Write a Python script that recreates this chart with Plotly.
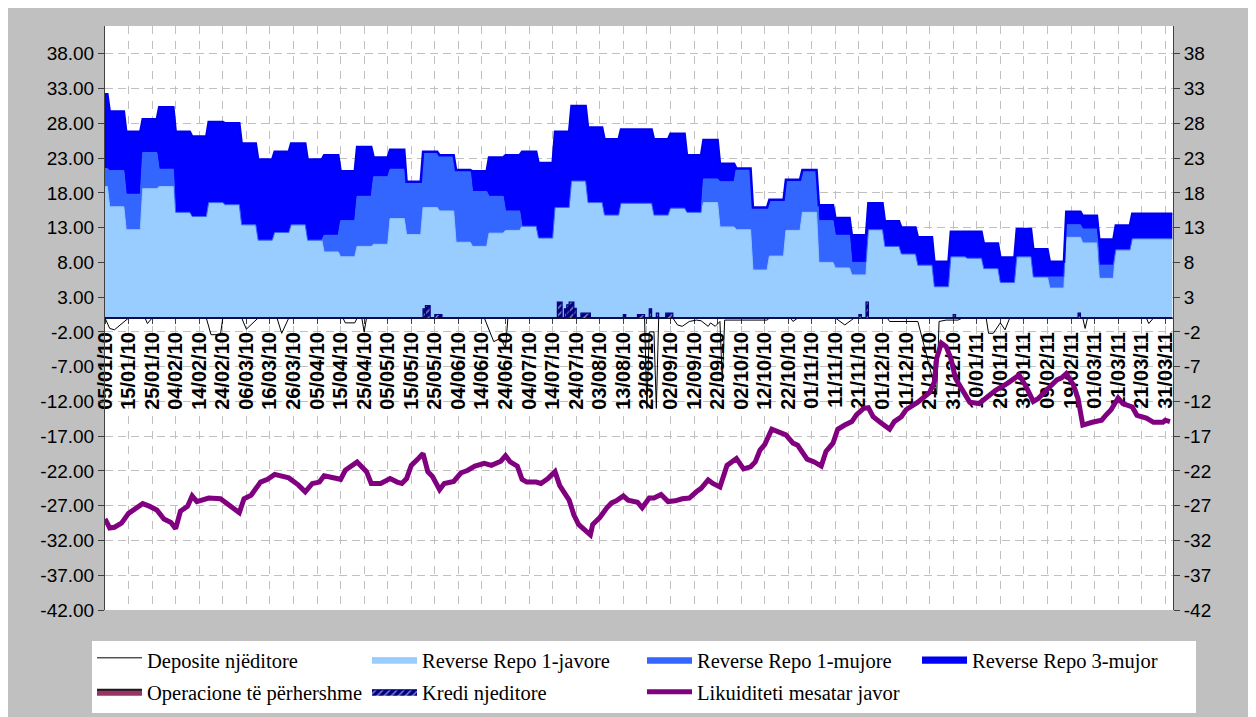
import datetime as dt
import plotly.graph_objects as go

# ---------------- data ----------------
chart_start = "2010-01-05"
first_auction = "2010-01-07"   # weekly auctions (Thursdays) from this date
n_weeks = 65
chart_end = "2011-04-03"

# weekly volumes (billion), first value covers 05-06/01/10
repo_1w = [18.9, 16.0, 12.7, 18.6, 18.9, 15.2, 14.6, 16.6, 16.3, 13.4,
           11.2, 12.3, 13.4, 11.2, 9.5, 8.8, 10.3, 10.6, 14.3, 12.0,
           15.9, 15.4, 10.9, 10.3, 12.2, 12.6, 13.2, 11.5, 15.9, 19.7,
           16.6, 14.8, 16.5, 16.5, 14.8, 15.8, 15.2, 16.6, 13.1, 12.7,
           6.9, 8.9, 12.6, 15.2, 8.0, 7.2, 6.2, 12.7, 10.3, 9.2,
           7.6, 4.5, 8.8, 8.6, 7.1, 5.1, 8.8, 5.9, 4.3, 11.6,
           10.8, 5.7, 9.8, 11.4, 11.4, 11.4]
repo_1m = [2.6, 5.2, 5.1, 5.2, 2.5, 0, 0, 0, 0, 0,
           0, 0, 0, 0, 2.4, 5.2, 7.2, 9.7, 7.1, 7.6,
           8.0, 8.0, 10.4, 7.9, 5.3, 2.8, 0, 0, 0, 0,
           0, 0, 0, 0, 0, 0, 0, 3.4, 6.5, 8.8,
           9.0, 8.1, 7.3, 6.1, 6.0, 4.7, 1.8, 0, 0, 0,
           0, 0, 0, 0, 0, 0, 0, 0, 1.6, 1.8,
           2.0, 1.9, 0, 0, 0, 0]
repo_3m = [10.7, 8.5, 9.0, 4.8, 8.9, 11.6, 11.5, 11.6, 11.7, 11.7,
           11.6, 11.6, 11.7, 11.6, 11.5, 7.1, 7.1, 2.8, 2.8, 0,
           0, 0, 0, 2.9, 5.6, 8.0, 10.7, 10.8, 10.9, 10.8,
           10.8, 10.9, 10.6, 10.6, 10.9, 10.7, 8.2, 5.6, 2.6, 0,
           0, 0, 0, 0, 2.2, 2.5, 3.9, 3.8, 3.6, 3.8,
           4.0, 3.6, 3.6, 3.8, 3.6, 3.6, 4.0, 4.0, 2.2, 1.9,
           1.9, 3.7, 3.5, 3.6, 3.6, 3.6]

# overnight deposits (negative = absorption)
dep_dates = ["2010-01-05", "2010-01-07", "2010-01-09", "2010-01-14", "2010-01-15",
             "2010-01-22", "2010-01-23", "2010-01-25", "2010-02-17", "2010-02-19",
             "2010-02-23", "2010-02-24", "2010-03-04", "2010-03-06", "2010-03-11",
             "2010-03-19", "2010-03-21", "2010-03-24", "2010-04-16", "2010-04-17",
             "2010-04-21", "2010-04-22", "2010-04-24", "2010-04-25", "2010-04-26",
             "2010-06-15", "2010-06-19", "2010-06-22", "2010-06-24", "2010-06-25",
             "2010-08-22", "2010-08-23", "2010-08-24", "2010-08-26", "2010-08-27",
             "2010-08-28", "2010-09-03", "2010-09-05", "2010-09-07", "2010-09-10",
             "2010-09-13", "2010-09-15", "2010-09-18", "2010-09-19", "2010-09-21",
             "2010-09-23", "2010-09-24", "2010-09-25", "2010-10-13", "2010-10-14",
             "2010-10-23", "2010-10-24", "2010-10-26", "2010-11-11", "2010-11-15",
             "2010-11-19", "2010-12-03", "2010-12-04", "2010-12-16", "2010-12-24",
             "2010-12-25", "2010-12-28", "2011-01-02", "2011-01-04", "2011-01-14",
             "2011-01-15", "2011-01-17", "2011-01-20", "2011-01-22", "2011-01-24",
             "2011-02-24", "2011-02-25", "2011-02-26", "2011-03-23", "2011-03-24",
             "2011-03-26", "2011-04-02"]
dep_vals = [0, -1.5, -1.7, -0.2, 0,
            0, -0.8, 0, 0, -2.4,
            -2.4, 0, 0, -1.6, 0,
            0, -2.2, 0, 0, -0.7,
            -0.7, 0, 0, -2.0, 0,
            0, -3.4, -2.9, -4.4, 0,
            0, -13.0, -2.0, -2.0, -13.0,
            0, 0, -1.0, -1.2, -0.5,
            -0.3, -0.4, -1.2, -0.7, -1.2,
            -0.5, -9.2, -0.3, -0.3, 0,
            0, -0.5, 0, 0, -1.0,
            0, 0, -0.5, -0.5, -11.0,
            -0.5, -0.3, -0.3, 0, 0,
            -2.2, -2.2, -0.7, -1.7, 0,
            0, -1.5, 0, 0, -0.8,
            0, 0]

# standing operations (none used)
perm_dates = ["2010-01-05", "2011-04-03"]
perm_vals = [0.0, 0.0]

# overnight credit
kredi_start = ["2010-05-20", "2010-05-21", "2010-05-25", "2010-07-16", "2010-07-19",
               "2010-07-20", "2010-07-21", "2010-07-23", "2010-07-26", "2010-08-13",
               "2010-08-19", "2010-08-24", "2010-08-27", "2010-08-31", "2010-11-21",
               "2010-11-24", "2010-12-31", "2011-02-22"]
kredi_end = ["2010-05-21", "2010-05-23", "2010-05-28", "2010-07-18", "2010-07-20",
             "2010-07-21", "2010-07-23", "2010-07-24", "2010-07-30", "2010-08-14",
             "2010-08-22", "2010-08-25", "2010-08-28", "2010-09-03", "2010-11-22",
             "2010-11-25", "2011-01-01", "2011-02-23"]
kredi_vals = [1.3, 1.8, 0.5, 2.3, 1.3,
              1.9, 2.3, 1.4, 0.7, 0.5,
              0.5, 1.3, 0.7, 0.7, 0.5,
              2.3, 0.5, 0.7]

# weekly average liquidity
liq_dates = [
    "2010-01-05", "2010-01-07", "2010-01-09", "2010-01-12", "2010-01-15", "2010-01-18", "2010-01-21", "2010-01-24", "2010-01-27", "2010-01-30",
    "2010-02-02", "2010-02-04", "2010-02-06", "2010-02-09", "2010-02-11", "2010-02-13", "2010-02-18", "2010-02-23", "2010-02-27",
    "2010-03-01", "2010-03-03", "2010-03-05", "2010-03-08", "2010-03-12", "2010-03-15", "2010-03-18", "2010-03-24", "2010-03-28", "2010-03-31",
    "2010-04-03", "2010-04-06", "2010-04-08", "2010-04-15", "2010-04-17", "2010-04-22", "2010-04-26", "2010-04-28",
    "2010-05-02", "2010-05-06", "2010-05-09", "2010-05-11", "2010-05-13", "2010-05-15", "2010-05-18", "2010-05-20", "2010-05-22", "2010-05-24", "2010-05-27", "2010-05-29",
    "2010-06-02", "2010-06-05", "2010-06-08", "2010-06-11", "2010-06-15", "2010-06-18", "2010-06-22", "2010-06-24", "2010-06-26", "2010-06-29",
    "2010-07-01", "2010-07-03", "2010-07-07", "2010-07-09", "2010-07-12", "2010-07-15", "2010-07-17", "2010-07-19", "2010-07-21", "2010-07-23", "2010-07-25", "2010-07-27", "2010-07-30", "2010-07-31",
    "2010-08-03", "2010-08-06", "2010-08-08", "2010-08-10", "2010-08-13", "2010-08-15", "2010-08-19", "2010-08-21", "2010-08-24", "2010-08-26", "2010-08-29",
    "2010-09-01", "2010-09-04", "2010-09-07", "2010-09-10", "2010-09-13", "2010-09-15", "2010-09-18", "2010-09-20", "2010-09-23", "2010-09-26", "2010-09-30",
    "2010-10-03", "2010-10-06", "2010-10-08", "2010-10-10", "2010-10-12", "2010-10-15", "2010-10-18", "2010-10-21", "2010-10-24", "2010-10-26", "2010-10-30",
    "2010-11-02", "2010-11-05", "2010-11-07", "2010-11-10", "2010-11-12", "2010-11-15", "2010-11-18", "2010-11-20", "2010-11-23", "2010-11-25", "2010-11-27", "2010-11-30",
    "2010-12-04", "2010-12-06", "2010-12-09", "2010-12-11", "2010-12-16", "2010-12-21", "2010-12-23", "2010-12-24", "2010-12-26", "2010-12-28", "2010-12-30",
    "2011-01-01", "2011-01-03", "2011-01-05", "2011-01-07", "2011-01-11", "2011-01-15", "2011-01-18", "2011-01-23", "2011-01-25", "2011-01-28", "2011-01-31",
    "2011-02-03", "2011-02-05", "2011-02-08", "2011-02-10", "2011-02-13", "2011-02-15", "2011-02-17", "2011-02-20", "2011-02-22", "2011-02-24", "2011-02-28",
    "2011-03-04", "2011-03-06", "2011-03-08", "2011-03-11", "2011-03-13", "2011-03-17", "2011-03-19", "2011-03-23", "2011-03-26", "2011-03-30", "2011-03-31", "2011-04-02"]
liq_vals = [
    -28.9, -30.2, -30.1, -29.5, -28.1, -27.5, -26.7, -27.1, -27.6, -28.9,
    -29.4, -30.3, -27.8, -27.1, -25.6, -26.4, -25.9, -26.0, -27.0,
    -27.3, -28.0, -26.0, -25.5, -23.6, -23.2, -22.5, -23.0, -24.0, -25.0,
    -23.8, -23.6, -22.7, -23.2, -21.9, -20.7, -22.1, -23.8,
    -23.8, -23.1, -23.6, -23.8, -23.1, -21.2, -20.2, -19.5, -22.1, -22.8, -24.7, -23.8,
    -23.5, -22.3, -21.9, -21.3, -20.9, -21.2, -20.6, -19.8, -20.7, -21.3,
    -23.2, -23.6, -23.6, -23.8, -23.1, -22.1, -24.1, -25.2, -26.2, -28.3, -29.7, -30.3, -31.2, -29.7,
    -28.7, -27.3, -26.6, -26.3, -25.6, -26.2, -26.5, -27.3, -25.9, -25.9, -25.4,
    -26.4, -26.3, -26.0, -25.9, -25.0, -24.5, -23.3, -23.8, -24.3, -21.2, -20.2,
    -21.7, -21.4, -20.7, -19.0, -18.2, -16.0, -16.4, -16.8, -18.0, -18.3, -20.3,
    -20.7, -21.3, -19.2, -18.0, -16.0, -15.4, -14.9, -13.9, -13.0, -12.9, -14.2, -15.0,
    -16.0, -14.9, -14.2, -13.2, -12.1, -10.7, -9.2, -5.8, -3.6, -4.1, -5.8,
    -8.7, -9.9, -10.8, -12.1, -12.3, -11.1, -10.4, -9.4, -8.9, -8.2, -9.9,
    -12.0, -11.6, -10.7, -9.9, -8.9, -8.6, -8.0, -9.6, -11.6, -15.4, -15.0,
    -14.7, -13.9, -13.2, -11.5, -12.3, -12.8, -14.0, -14.4, -15.0, -15.0, -14.7, -14.9]

y_ticks = [-42, -37, -32, -27, -22, -17, -12, -7, -2, 3, 8, 13, 18, 23, 28, 33, 38]

# -------------- build step series from weekly values --------------
d0 = dt.date.fromisoformat(first_auction)
starts = [dt.date.fromisoformat(chart_start)] + [d0 + dt.timedelta(weeks=k) for k in range(n_weeks)]
last = dt.date.fromisoformat(chart_end)
ends = []
for i, s in enumerate(starts):
    if i + 1 < len(starts):
        ends.append(starts[i + 1] - dt.timedelta(days=1))
    else:
        ends.append(last)
wx = []
for s, e in zip(starts, ends):
    wx += [s.isoformat(), e.isoformat()]


def weekly(vals):
    out = []
    for v in vals:
        out += [v, v]
    return out


kx, ky = [], []
for s, e, v in zip(kredi_start, kredi_end, kredi_vals):
    kx += [s, e]
    ky += [v, 0]
kx = [chart_start] + kx + [chart_end]
ky = [0] + ky + [0]

fig = go.Figure()

fig.add_trace(go.Scatter(x=dep_dates, y=dep_vals, name="Deposite njëditore", mode="lines",
                         line=dict(color="black", width=1), fill="tozeroy",
                         fillcolor="rgba(255,255,255,0)", legend="legend"))
fig.add_trace(go.Scatter(x=wx, y=weekly(repo_1w), name="Reverse Repo 1-javore", mode="lines",
                         stackgroup="repo", line=dict(color="#8FC3FA", width=1),
                         fillcolor="#99CCFF", legend="legend"))
fig.add_trace(go.Scatter(x=wx, y=weekly(repo_1m), name="Reverse Repo 1-mujore", mode="lines",
                         stackgroup="repo", line=dict(color="#3366FF", width=1),
                         fillcolor="#3366FF", legend="legend"))
fig.add_trace(go.Scatter(x=wx, y=weekly(repo_3m), name="Reverse Repo 3-mujor", mode="lines",
                         stackgroup="repo", line=dict(color="#0000F0", width=2.5),
                         fillcolor="#0000FF", legend="legend"))
fig.add_trace(go.Scatter(x=perm_dates, y=perm_vals, name="Operacione të përhershme", mode="lines",
                         line=dict(color="#1a1a1a", width=2), fill="tozeroy",
                         fillcolor="#993366", legend="legend2"))
fig.add_trace(go.Scatter(x=kx, y=ky, name="Kredi njeditore", mode="lines",
                         line=dict(color="#000080", width=1.2, shape="hv"), fill="tozeroy",
                         fillcolor="#000080",
                         fillpattern=dict(shape="/", fgcolor="#FFFFFF", bgcolor="#000080",
                                          solidity=0.3, size=5),
                         legend="legend2"))
fig.add_trace(go.Scatter(x=liq_dates, y=liq_vals, name="Likuiditeti mesatar javor", mode="lines",
                         line=dict(color="#800080", width=5), yaxis="y2", legend="legend2"))

# page is offset by the 8px body margin; plot area in page pixels:
PAGE_OFF = 8
W, H = 1256 - PAGE_OFF, 717 - PAGE_OFF
p_left, p_right, p_top, p_bottom = 105, 1173, 26, 610
ml = p_left - PAGE_OFF
mr = 1256 - p_right
mt = p_top - PAGE_OFF
mb = 717 - p_bottom


def fx(px):
    return (px - p_left) / (p_right - p_left)


def fy(py):
    return (p_bottom - py) / (p_bottom - p_top)


grid = dict(showgrid=True, gridcolor="#C0C0C0", gridwidth=1)
tickfont = dict(family="Liberation Sans", size=19, color="black")
legfont = dict(family="Liberation Serif", size=20.5, color="black")

fig.update_layout(
    width=W, height=H,
    margin=dict(l=ml, r=mr, t=mt, b=mb, autoexpand=False),
    paper_bgcolor="#C0C0C0",
    plot_bgcolor="white",
    xaxis=dict(type="date", range=[chart_start, "2011-04-03 07:00"],
               tick0=chart_start, dtick=10 * 86400000, tickformat="%d/%m/%y",
               tickangle=-90, tickfont=dict(family="Liberation Sans", size=20, color="black", weight="bold"),
               ticks="outside", ticklen=5, tickcolor="#404040",
               showline=True, linecolor="#404040", linewidth=1,
               anchor="free", position=0.5, layer="below traces",
               griddash="8px,7px", zeroline=False, **grid),
    yaxis=dict(range=[-42, 42], tickvals=y_ticks, ticktext=[f"{v:.2f}" for v in y_ticks],
               tickfont=tickfont, ticks="outside", ticklen=6, tickcolor="#404040",
               showline=True, linecolor="#404040", linewidth=1, zeroline=False,
               griddash="8px,5px", **grid),
    yaxis2=dict(range=[-42, 42], tickvals=y_ticks, ticktext=[str(v) for v in y_ticks],
                tickfont=tickfont, ticks="outside", ticklen=6, tickcolor="#404040",
                showline=True, linecolor="#404040", linewidth=1, zeroline=False,
                overlaying="y", side="right", showgrid=False),
    legend=dict(orientation="h", x=fx(92), xanchor="left", y=fy(660), yanchor="middle",
                bgcolor="rgba(0,0,0,0)", font=legfont,
                entrywidth=215, entrywidthmode="pixels", itemwidth=45, traceorder="normal"),
    legend2=dict(orientation="h", x=fx(92), xanchor="left", y=fy(692), yanchor="middle",
                 bgcolor="rgba(0,0,0,0)", font=legfont,
                 entrywidth=215, entrywidthmode="pixels", itemwidth=45, traceorder="normal"),
    shapes=[
        dict(type="rect", xref="paper", yref="paper", x0=fx(92), x1=fx(1196), y0=fy(713), y1=fy(641),
             fillcolor="white", line=dict(width=0), layer="below"),
    ],
    showlegend=True,
)

fig.write_html("out.html")
